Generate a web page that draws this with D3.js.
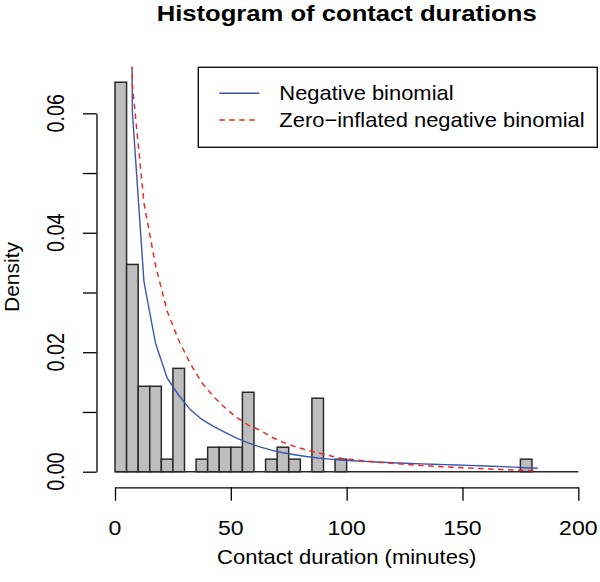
<!DOCTYPE html>
<html>
<head>
<meta charset="utf-8">
<script src="https://cdn.jsdelivr.net/npm/d3@7"></script>
<style>
  body { margin: 0; background: #fff; }
  svg { display: block; }
</style>
</head>
<body>
<svg id="chart"></svg>
<script>
// histogram bins (left edges, width 5 minutes) and their densities
var binLeft = [0, 5, 10, 15, 20, 25, 30, 35, 40, 45, 50, 55, 60, 65, 70, 75, 80, 85, 90, 95,
               100, 105, 110, 115, 120, 125, 130, 135, 140, 145, 150, 155, 160, 165, 170, 175];
var binDensity = [0.0652, 0.0347, 0.0143, 0.0143, 0.0021, 0.0173, 0, 0.0021, 0.0041, 0.0041,
                  0.0041, 0.0133, 0, 0.0021, 0.0041, 0.0021, 0, 0.0123, 0, 0.0021,
                  0, 0, 0, 0, 0, 0, 0, 0, 0, 0, 0, 0, 0, 0, 0, 0.0021];
var binWidth = 5;

// fitted curves evaluated at bin midpoints
var midX = [2.5, 7.5, 12.5, 17.5, 22.5, 27.5, 32.5, 37.5, 42.5, 47.5, 52.5, 57.5, 62.5, 67.5,
            72.5, 77.5, 82.5, 87.5, 92.5, 97.5, 102.5, 107.5, 112.5, 117.5, 122.5, 127.5,
            132.5, 137.5, 142.5, 147.5, 152.5, 157.5, 162.5, 167.5, 172.5, 177.5, 182.5];
var nbDensity = [0.35, 0.0602, 0.0318, 0.0215, 0.0157, 0.0128, 0.0104, 0.00875, 0.0076, 0.00657,
                 0.00563, 0.00482, 0.00416, 0.0036, 0.00317, 0.00284, 0.00255, 0.00229, 0.00211,
                 0.00195, 0.00183, 0.00172, 0.00162, 0.00153, 0.00145, 0.00138, 0.00131, 0.00125,
                 0.00119, 0.00113, 0.00106, 0.001, 0.00092, 0.00085, 0.00076, 0.00067, 0.00058];
var zinbDensity = [0.45, 0.0648, 0.045, 0.0345, 0.0269, 0.022, 0.0181, 0.0149, 0.0126, 0.0107,
                   0.0091, 0.0078, 0.00697, 0.0058, 0.00493, 0.00423, 0.00365, 0.00317, 0.0027,
                   0.00224, 0.00203, 0.00183, 0.00163, 0.00148, 0.00132, 0.00118, 0.00104, 0.00091,
                   0.0008, 0.0007, 0.00061, 0.00052, 0.00044, 0.00036, 0.00029, 0.00022, 0.00016];

var xTicks = [0, 50, 100, 150, 200];
var yTicks = [0, 0.01, 0.02, 0.03, 0.04, 0.05, 0.06];
var yLabelled = [0, 0.02, 0.04, 0.06];
var legendLabels = ["Negative binomial", "Zero\u2212inflated negative binomial"];

var params = {
    width: 600,
    height: 582,
    fontFamily: "'Liberation Sans', Arial, Helvetica, sans-serif",
    barFill: "#bebebe",
    barStroke: "#2a2a2a",
    nbColor: "#3a56b0",
    zinbColor: "#ee2a2a"
};

var svg = d3.select("#chart")
    .attr("width", params.width)
    .attr("height", params.height);

var x = d3.scaleLinear().domain([0, 200]).range([115, 578.3]);
var y = d3.scaleLinear().domain([0, 0.06]).range([471.7, 113.3]);

// R style plot region (4% padding each side)
var yMax = d3.max(binDensity);
var plotLeft = x(-8), plotRight = x(208);
var plotTop = y(yMax * 1.04), plotBottom = y(-yMax * 0.04);

svg.append("defs").append("clipPath").attr("id", "plotClip")
    .append("rect")
    .attr("x", plotLeft).attr("y", plotTop)
    .attr("width", plotRight - plotLeft).attr("height", plotBottom - plotTop);

function addText(g, px, py, str, size, sx, rotate, weight) {
    return g.append("text")
        .attr("transform", "translate(" + px + "," + py + ") scale(" + sx + ",1)" + (rotate ? " rotate(-90)" : ""))
        .attr("text-anchor", "middle")
        .attr("font-family", params.fontFamily)
        .attr("font-size", size)
        .attr("font-weight", weight || "normal")
        .attr("fill", "#000")
        .text(str);
}

// bars
var bars = svg.append("g").attr("clip-path", "url(#plotClip)");
bars.selectAll("rect")
    .data(binLeft)
    .enter().append("rect")
    .attr("x", function(d) { return x(d); })
    .attr("width", function(d) { return x(d + binWidth) - x(d); })
    .attr("y", function(d, i) { return y(binDensity[i]); })
    .attr("height", function(d, i) { return y(0) - y(binDensity[i]); })
    .attr("fill", params.barFill)
    .attr("stroke", params.barStroke)
    .attr("stroke-width", 1.5);

bars.append("line")
    .attr("x1", x(0)).attr("x2", x(200))
    .attr("y1", y(0)).attr("y2", y(0))
    .attr("stroke", params.barStroke)
    .attr("stroke-width", 1.5);

// fitted curves
var line = d3.line()
    .x(function(d) { return x(d[0]); })
    .y(function(d) { return y(d[1]); });

bars.append("path")
    .attr("d", line(d3.zip(midX, nbDensity)))
    .attr("fill", "none")
    .attr("stroke", params.nbColor)
    .attr("stroke-width", 1.4);

bars.append("path")
    .attr("d", line(d3.zip(midX, zinbDensity)))
    .attr("fill", "none")
    .attr("stroke", params.zinbColor)
    .attr("stroke-width", 1.5)
    .attr("stroke-dasharray", "5.5,4.5");

// x axis
var xAxis = svg.append("g")
    .attr("transform", "translate(0," + plotBottom + ")")
    .call(d3.axisBottom(x).tickValues(xTicks).tickSize(13.5).tickSizeOuter(0).tickFormat(""));
xAxis.selectAll("path, line").attr("stroke", "#000").attr("stroke-width", 1.3);
xTicks.forEach(function(t) {
    addText(svg, x(t), 535, String(t), 19.7, 1.17);
});

// y axis
var yAxis = svg.append("g")
    .attr("transform", "translate(" + plotLeft + ",0)")
    .call(d3.axisLeft(y).tickValues(yTicks).tickSize(13.5).tickSizeOuter(0).tickFormat(""));
yAxis.selectAll("path, line").attr("stroke", "#000").attr("stroke-width", 1.3);
yLabelled.forEach(function(t) {
    addText(svg, 63.5, y(t), d3.format(".2f")(t), 19.7, 1.17, true);
});

// titles
addText(svg, (x(0) + x(200)) / 2, 21, "Histogram of contact durations", 21.9, 1.17, false, "bold");
addText(svg, (x(0) + x(200)) / 2, 564, "Contact duration (minutes)", 20, 1.1);
addText(svg, 18.5, (plotTop + plotBottom) / 2, "Density", 21, 1.0, true);

// legend
var legend = svg.append("g");
legend.append("rect")
    .attr("x", 198.3).attr("y", 67.3)
    .attr("width", 399).attr("height", 80)
    .attr("fill", "#fff")
    .attr("stroke", "#000")
    .attr("stroke-width", 1.3);
var legendColors = [params.nbColor, params.zinbColor];
legendLabels.forEach(function(label, i) {
    var ly = 93.3 + i * 26.7;
    legend.append("line")
        .attr("x1", 219.3).attr("x2", 259.3)
        .attr("y1", ly).attr("y2", ly)
        .attr("stroke", legendColors[i])
        .attr("stroke-width", 1.4)
        .attr("stroke-dasharray", i === 1 ? "5.5,4.5" : null);
    addText(legend, 279.3, ly + 6.5, label, 20.5, 1.07).attr("text-anchor", "start");
});
</script>
</body>
</html>
